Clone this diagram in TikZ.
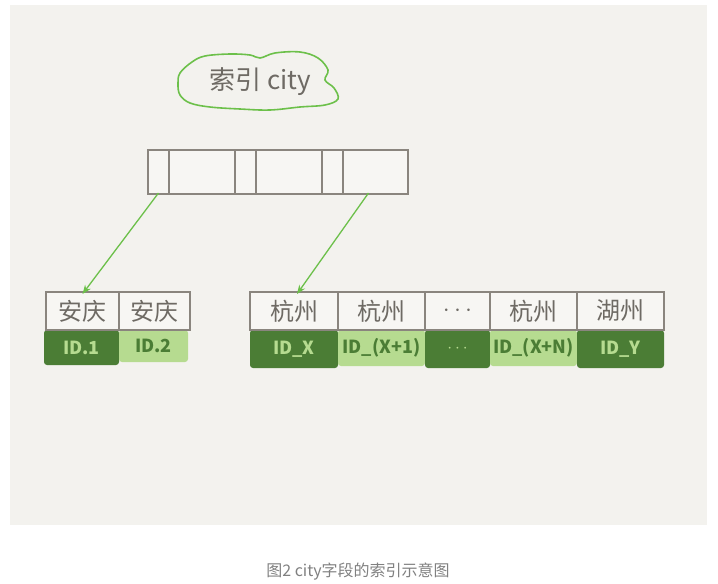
\documentclass[tikz,border=0pt]{standalone}
\usepackage{fontspec}
\usepackage{xcolor}
\usepackage{tikz}
\usetikzlibrary{positioning}
\usetikzlibrary{arrows.meta}
\newfontfamily\cjk{Noto Sans CJK SC}

\definecolor{paper}{HTML}{F3F2EE}
\definecolor{cellbg}{HTML}{F7F6F3}
\definecolor{edge}{HTML}{8A857E}
\definecolor{ink}{HTML}{6E6A64}
\definecolor{leafgreen}{HTML}{6CC04A}
\definecolor{darkid}{HTML}{4B7D35}
\definecolor{lightid}{HTML}{B6DB90}
\definecolor{capgray}{HTML}{808080}

\tikzset{
  cell/.style={draw=edge, fill=cellbg, line width=1.4pt, outer sep=0pt, inner sep=0pt,
    anchor=north west, font=\cjk\fontsize{24}{24}\selectfont, text=ink},
  darkcell/.style={fill=darkid, rounded corners=3pt, outer sep=0pt, inner sep=0pt,
    anchor=north west, font=\cjk\bfseries\fontsize{18}{18}\selectfont, text=lightid},
  lightcell/.style={fill=lightid, rounded corners=3pt, outer sep=0pt, inner sep=0pt,
    anchor=north west, font=\cjk\bfseries\fontsize{18}{18}\selectfont, text=darkid},
  pointer/.style={draw=leafgreen, line width=1.3pt, -{Stealth[length=9pt,width=7pt]}}
}

\begin{document}
\begin{tikzpicture}[x=1pt, y=-1pt]
\useasboundingbox (0,0) rectangle (718,584);
\fill[paper] (10,5) rectangle (707,525);

% cloud with the index name
\draw[leafgreen, line width=1.6pt, fill=paper] plot[smooth cycle, tension=0.6] coordinates {
  (180,73) (192,62) (205,56) (230,54) (250,55) (260,58) (275,53) (300,52)
  (318,58) (328,70) (325,80) (334,88) (338,99) (325,105) (300,107)
  (270,110) (240,109) (210,107) (190,103) (180,95) (178,84)};
\node[font=\cjk\fontsize{26}{26}\selectfont, text=ink] (title) at (260,82) {索引 city};

% top node
\node[cell, minimum width=21pt, minimum height=44pt] (t1) at (148,150) {};
\node[cell, minimum width=66pt, minimum height=44pt] (t2) at (169,150) {};
\node[cell, minimum width=21pt, minimum height=44pt] (t3) at (235,150) {};
\node[cell, minimum width=66pt, minimum height=44pt] (t4) at (256,150) {};
\node[cell, minimum width=21pt, minimum height=44pt] (t5) at (322,150) {};
\node[cell, minimum width=65pt, minimum height=44pt] (t6) at (343,150) {};

% left leaf
\node[darkcell, minimum width=75pt, minimum height=35pt] (a1id) at (44,330) {ID.1};
\node[lightcell, minimum width=69pt, minimum height=32pt] (a2id) at (119,330) {ID.2};
\node[cell, minimum width=73pt, minimum height=38pt] (a1) at (46,292) {安庆};
\node[cell, minimum width=71pt, minimum height=38pt] (a2) at (119,292) {安庆};

% right leaf
\node[darkcell, minimum width=88pt, minimum height=38pt] (h1id) at (250,330) {ID\_X};
\node[lightcell, minimum width=87pt, minimum height=36pt] (h2id) at (338,330) {ID\_(X+1)};
\node[darkcell, minimum width=65pt, minimum height=38pt] (h3id) at (425,330) {$\cdots$};
\node[lightcell, minimum width=87pt, minimum height=36pt] (h4id) at (490,330) {ID\_(X+N)};
\node[darkcell, minimum width=87pt, minimum height=38pt] (h5id) at (577,330) {ID\_Y};
\node[cell, minimum width=88pt, minimum height=38pt] (h1) at (250,292) {杭州};
\node[cell, minimum width=87pt, minimum height=38pt] (h2) at (338,292) {杭州};
\node[cell, minimum width=65pt, minimum height=38pt] (h3) at (425,292) {$\cdots$};
\node[cell, minimum width=87pt, minimum height=38pt] (h4) at (490,292) {杭州};
\node[cell, minimum width=87pt, minimum height=38pt] (h5) at (577,292) {湖州};

% pointers
\draw[pointer] ([yshift=1pt]t1.south) -- ([yshift=-2pt]a1.north);
\draw[pointer] ([xshift=-7pt,yshift=1pt]t6.south) -- ([xshift=3pt,yshift=-2pt]h1.north);

% caption
\node[font=\cjk\fontsize{16}{16}\selectfont, text=capgray] (caption) at (358,572) {图2 city字段的索引示意图};
\end{tikzpicture}
\end{document}
